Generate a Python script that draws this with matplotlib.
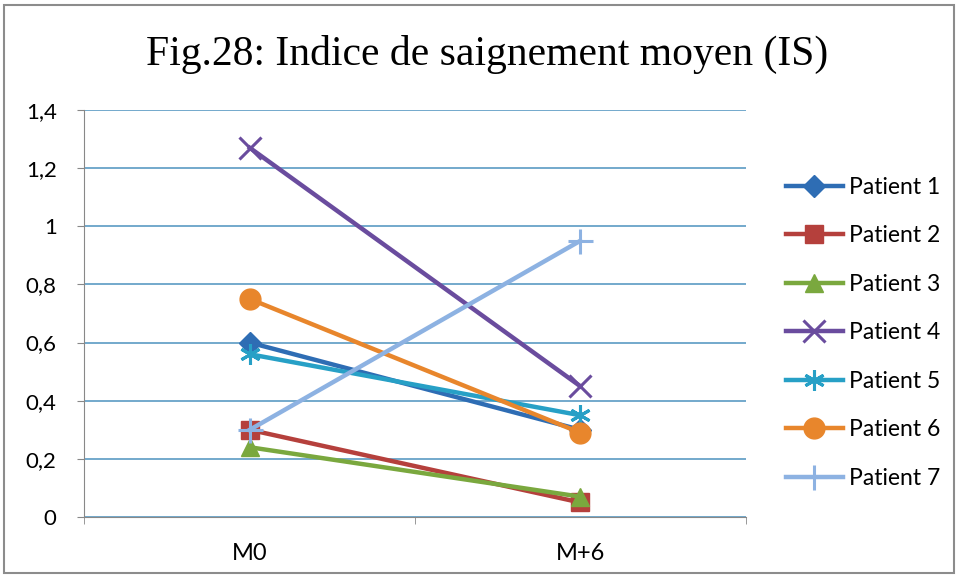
import numpy as np
import matplotlib
matplotlib.use("Agg")
import matplotlib.pyplot as plt
from matplotlib.patches import Rectangle
from matplotlib.ticker import FuncFormatter

# data
periods = ["M0", "M+6"]
patients = ["Patient 1", "Patient 2", "Patient 3", "Patient 4",
            "Patient 5", "Patient 6", "Patient 7"]
p1 = [0.60, 0.30]
p2 = [0.30, 0.05]
p3 = [0.24, 0.07]
p4 = [1.27, 0.45]
p5 = [0.56, 0.35]
p6 = [0.75, 0.29]
p7 = [0.30, 0.95]
series = [p1, p2, p3, p4, p5, p6, p7]

colors = ["#2e6db4", "#b5403c", "#7aa83e", "#6a4c9e", "#27a0c6", "#e8862c", "#8db2e2"]
markers = ["D", "s", "^", "x", (6, 2, 0), "o", "+"]
msizes = [11, 13, 13, 16, 15, 15, 18]

plt.rcParams['font.family'] = ['Lato', 'DejaVu Sans']

fig = plt.figure(figsize=(9.58, 5.78), dpi=100)
ax = fig.add_axes([0.0882, 0.1055, 0.690, 0.7042])

x = np.arange(len(periods))
for vals, lab, c, m, ms in zip(series, patients, colors, markers, msizes):
    thin = m in ("x", "+") or isinstance(m, tuple)
    ax.plot(x, vals, color=c, lw=3.2, marker=m, markersize=ms,
            markeredgewidth=2.2 if thin else 1,
            markeredgecolor=c, markerfacecolor=c, label=lab)

ax.set_xlim(-0.5, 1.5)
ax.set_ylim(0, 1.4)
ax.set_yticks(np.arange(0, 1.41, 0.2))
ax.yaxis.set_major_formatter(FuncFormatter(
    lambda v, p: ("%g" % round(v, 1)).replace(".", ",")))
ax.set_xticks(x)
ax.set_xticklabels(periods)
ax.set_xticks([-0.5, 0.5, 1.5], minor=True)
ax.tick_params(axis="x", which="major", length=0, labelsize=17, pad=19)
ax.tick_params(axis="x", which="minor", length=5, color="#888888")
ax.tick_params(axis="y", length=5, color="#888888", labelsize=16, pad=15)

ax.grid(axis="y", color="#5b9bc4", lw=1.2)
ax.set_axisbelow(True)
for s in ["top", "right"]:
    ax.spines[s].set_visible(False)
ax.spines["left"].set_color("#888888")
ax.spines["bottom"].set_color("#888888")

fig.text(0.509, 0.905, "Fig.28: Indice de saignement moyen (IS)",
         ha="center", va="center", fontsize=30,
         family=["Liberation Serif", "DejaVu Serif"])

fig.legend(loc="center left", bbox_to_anchor=(0.808, 0.4247), frameon=False,
           fontsize=16.5, handlelength=2.5, labelspacing=1.2,
           handletextpad=0.25, borderpad=0)

fig.patches.append(Rectangle((0.004, 0.009), 0.992, 0.982, transform=fig.transFigure,
                             fill=False, edgecolor="#8c8c8c", lw=1.5))

fig.savefig("out.png", dpi=100)
